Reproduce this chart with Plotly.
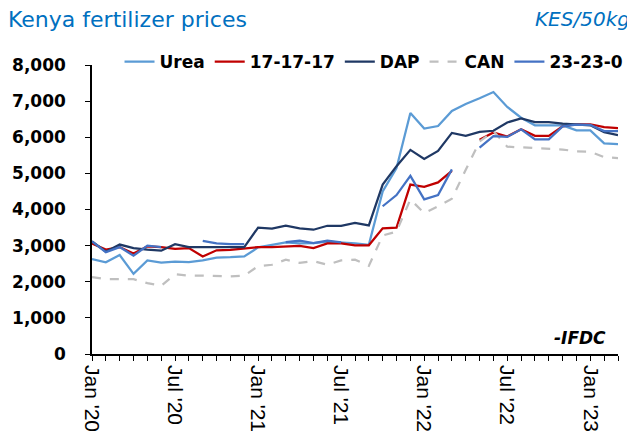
import plotly.graph_objects as go

months = ["Jan '20", "Feb '20", "Mar '20", "Apr '20", "May '20", "Jun '20",
          "Jul '20", "Aug '20", "Sep '20", "Oct '20", "Nov '20", "Dec '20",
          "Jan '21", "Feb '21", "Mar '21", "Apr '21", "May '21", "Jun '21",
          "Jul '21", "Aug '21", "Sep '21", "Oct '21", "Nov '21", "Dec '21",
          "Jan '22", "Feb '22", "Mar '22", "Apr '22", "May '22", "Jun '22",
          "Jul '22", "Aug '22", "Sep '22", "Oct '22", "Nov '22", "Dec '22",
          "Jan '23", "Feb '23", "Mar '23"]
tick_labels = ["Jan '20", "Jul '20", "Jan '21", "Jul '21", "Jan '22", "Jul '22", "Jan '23"]

urea = [2630, 2540, 2740, 2220, 2590, 2530, 2560, 2540, 2590, 2670, 2680, 2700,
        2950, 3030, 3090, 3060, 3070, 3110, 3090, 3060, 3020, 4500, 5150, 6670,
        6240, 6310, 6730, 6920, 7080, 7250, 6840, 6540, 6330, 6330, 6330, 6190,
        6190, 5830, 5810]
npk_171717 = [3060, 2890, 2960, 2780, 2980, 2960, 2910, 2930, 2700, 2870, 2880, 2930,
              2960, 2960, 2970, 2990, 2930, 3060, 3060, 3010, 3010, 3480, 3500, 4690,
              4630, 4750, 5070, None, 5930, 6130, 6020, 6220, 6040, 6040, 6300, 6360,
              6360, 6280, 6250]
dap = [3120, 2830, 3030, 2930, 2890, 2860, 3040, 2960, 2960, 2960, 2960, 2960,
       3500, 3470, 3550, 3480, 3440, 3550, 3550, 3630, 3560, 4690, 5200, 5650,
       5400, 5620, 6120, 6040, 6150, 6180, 6410, 6520, 6420, 6420, 6380, 6360,
       6330, 6140, 6060]
can = [2130, 2070, 2070, 2070, 1960, 1890, 2210, 2170, 2170, 2150, 2150, 2170,
       2430, 2470, 2610, 2520, 2570, 2470, 2590, 2610, 2440, 3280, 3390, 4280,
       3900, 4090, 4300, 5100, 5880, 6170, 5740, 5720, 5700, 5690, 5660, 5610,
       5600, 5450, 5420]
np_23230 = [3120, 2820, 2960, 2720, 3000, 2960, None, None, 3130, 3060, 3040, 3040,
            None, None, 3100, 3140, 3070, 3140, 3090, None, None, 4090, 4400, 4930,
            4280, 4400, 5110, None, 5710, 6030, 6010, 6220, 5940, 5940, 6300, 6350,
            6340, 6170, 6170]

x = list(range(len(months)))
series = [
    ("Urea", urea, "#5B9BD5", "solid"),
    ("17-17-17", npk_171717, "#C00000", "solid"),
    ("DAP", dap, "#1F3864", "solid"),
    ("CAN", can, "#BFBFBF", "dash"),
    ("23-23-0", np_23230, "#4472C4", "solid"),
]

fig = go.Figure()
for name, vals, color, dash in series:
    fig.add_trace(go.Scatter(
        x=x, y=vals, name=name, mode="lines",
        line=dict(color=color, width=2.25, dash=dash),
        connectgaps=False,
    ))

ticktext = [m if m in tick_labels else "" for m in months]

# the page body adds an 8px offset; the figure fills the rest of the window
fig.update_layout(
    width=627, height=438,
    margin=dict(l=84, r=17, t=57, b=92, autoexpand=False),
    paper_bgcolor="white", plot_bgcolor="white",
    font=dict(family="DejaVu Sans", color="black"),
    title=dict(text="Kenya fertilizer prices", x=0.0, xanchor="left",
               y=0.975, yanchor="middle",
               font=dict(family="DejaVu Sans", size=22, color="#0070C0")),
    legend=dict(orientation="h", x=1.02, xanchor="right", y=1.01, yanchor="middle",
                bgcolor="rgba(0,0,0,0)",
                font=dict(family="DejaVu Sans", size=17, color="black", weight="bold"),
                itemwidth=30, tracegroupgap=0),
    showlegend=True,
    xaxis=dict(range=[0, 38], tickmode="array", tickvals=x, ticktext=ticktext,
               tickangle=90, ticks="outside", ticklen=5, tickcolor="black",
               showline=True, linecolor="black", linewidth=1.5, showgrid=False,
               zeroline=False, automargin=False,
               tickfont=dict(family="Liberation Sans", size=21, color="black")),
    yaxis=dict(range=[0, 8000], dtick=1000, tickformat=",", ticks="outside",
               ticklen=5, tickcolor="black", showline=True, linecolor="black",
               linewidth=1.5, showgrid=False, zeroline=False, ticklabelstandoff=16,
               automargin=False,
               tickfont=dict(family="DejaVu Sans", size=17, color="black", weight="bold")),
    annotations=[
        dict(text="<i>KES/50kg</i>", xref="paper", yref="paper", x=1.0266, y=1.159,
             xanchor="right", yanchor="middle", showarrow=False,
             font=dict(family="DejaVu Sans", size=20, color="#0070C0")),
        dict(text="<b><i>-IFDC</i></b>", xref="paper", yref="y", x=0.981, y=450,
             xanchor="right", yanchor="middle", showarrow=False,
             font=dict(family="DejaVu Sans", size=17, color="black")),
    ],
)

fig.write_html("out.html")
